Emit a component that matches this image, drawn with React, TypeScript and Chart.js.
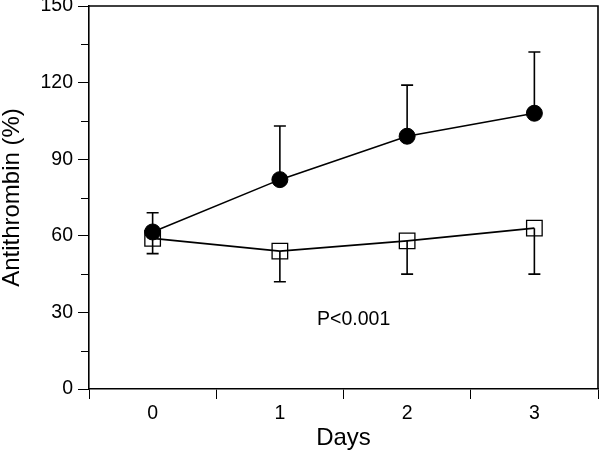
import React, { useEffect, useRef } from "react";
import { Chart, registerables } from "chart.js";

Chart.register(...registerables);

const days = ["0", "1", "2", "3"];
const treatedMean = [61.5, 82, 99, 108];
const treatedUpper = [69, 103, 119, 132];
const controlMean = [59, 54, 58, 63];
const controlLower = [53, 42, 45, 45];
const yMin = 0;
const yMax = 150;
const yStep = 15;
const annotationText = "P<0.001";
const annotationX = 1.58;
const annotationY = 27;

const FONT = "'Liberation Sans', Arial, Helvetica, sans-serif";

const errorBarPlugin = {
  id: "errorBars",
  beforeDatasetsDraw(chart: any) {
    const ctx = chart.ctx;
    const x = chart.scales.x;
    const y = chart.scales.y;
    const sets = [
      { mean: treatedMean, err: treatedUpper },
      { mean: controlMean, err: controlLower },
    ];
    ctx.save();
    ctx.strokeStyle = "#000";
    ctx.lineWidth = 1.6;
    sets.forEach((s) => {
      s.mean.forEach((m, i) => {
        const px = x.getPixelForValue(i);
        const py0 = y.getPixelForValue(m);
        const py1 = y.getPixelForValue(s.err[i]);
        ctx.beginPath();
        ctx.moveTo(px, py0);
        ctx.lineTo(px, py1);
        ctx.moveTo(px - 6, py1);
        ctx.lineTo(px + 6, py1);
        ctx.stroke();
      });
    });
    ctx.restore();
  },
  afterDraw(chart: any) {
    const ctx = chart.ctx;
    const a = chart.chartArea;
    const x = chart.scales.x;
    const y = chart.scales.y;
    ctx.save();
    ctx.strokeStyle = "#000";
    ctx.lineWidth = 1.6;
    // frame top and right
    ctx.beginPath();
    ctx.moveTo(a.left, a.top);
    ctx.lineTo(a.right, a.top);
    ctx.lineTo(a.right, a.bottom);
    ctx.stroke();
    // minor y ticks
    ctx.lineWidth = 1;
    for (let v = yMin; v <= yMax; v += yStep) {
      if (v % 30 !== 0) {
        const py = Math.round(y.getPixelForValue(v)) + 0.5;
        ctx.beginPath();
        ctx.moveTo(a.left - 8, py);
        ctx.lineTo(a.left, py);
        ctx.stroke();
      }
    }
    // annotation
    ctx.fillStyle = "#000";
    ctx.font = `19.5px ${FONT}`;
    ctx.textAlign = "center";
    ctx.textBaseline = "middle";
    ctx.fillText(annotationText, x.getPixelForValue(annotationX), y.getPixelForValue(annotationY));
    ctx.restore();
  },
};

export default function App() {
  const ref = useRef<HTMLCanvasElement | null>(null);
  useEffect(() => {
    if (!ref.current) return;
    const chart = new Chart(ref.current, {
      type: "line",
      data: {
        labels: days,
        datasets: [
          {
            label: "Treated",
            data: treatedMean,
            borderColor: "#000",
            borderWidth: 1.6,
            pointStyle: "circle",
            pointRadius: 8,
            pointBackgroundColor: "#000",
            pointBorderColor: "#000",
            pointBorderWidth: 1,
            tension: 0,
            clip: false,
          },
          {
            label: "Control",
            data: controlMean,
            borderColor: "#000",
            borderWidth: 1.6,
            pointStyle: "rect",
            pointRadius: 11,
            pointBackgroundColor: "rgba(0,0,0,0)",
            pointBorderColor: "#000",
            pointBorderWidth: 1.3,
            tension: 0,
            clip: false,
          },
        ],
      },
      options: {
        animation: false,
        responsive: false,
        maintainAspectRatio: false,
        layout: { autoPadding: false, padding: { top: 6, right: 2, left: 0, bottom: 0 } },
        plugins: {
          legend: { display: false },
          tooltip: { enabled: false },
        },
        scales: {
          x: {
            type: "category",
            offset: true,
            grid: {
              offset: true,
              drawOnChartArea: false,
              tickLength: 10,
              tickColor: "#000",
              tickWidth: 1,
            },
            border: { display: true, color: "#000", width: 1.6 },
            ticks: {
              color: "#000",
              font: { family: FONT, size: 19.5 },
              padding: 3,
              maxRotation: 0,
            },
            title: {
              display: true,
              text: "Days",
              color: "#000",
              font: { family: FONT, size: 24, lineHeight: 1 },
              padding: { top: 0, bottom: 2 },
            },
            afterFit(scale: any) {
              scale.height = 63;
              scale.paddingLeft = 0;
              scale.paddingRight = 0;
            },
          },
          y: {
            min: yMin,
            max: yMax,
            grid: {
              drawOnChartArea: false,
              tickLength: 11,
              tickColor: (c: any) => (c.tick && c.tick.value % 30 === 0 ? "#000" : "rgba(0,0,0,0)"),
              tickWidth: 1,
            },
            border: { display: true, color: "#000", width: 1.6 },
            ticks: {
              stepSize: yStep,
              color: "#000",
              font: { family: FONT, size: 19.5 },
              padding: 5,
              callback: (v: any) => (Number(v) % 30 === 0 ? String(v) : ""),
            },
            title: {
              display: true,
              text: "Antithrombin (%)",
              color: "#000",
              font: { family: FONT, size: 24, lineHeight: 1 },
              padding: { top: 0, bottom: 0 },
            },
            afterFit(scale: any) {
              scale.width = 89;
              scale.paddingTop = 0;
              scale.paddingBottom = 0;
            },
          },
        },
      },
      plugins: [errorBarPlugin],
    });
    return () => chart.destroy();
  }, []);
  return (
    <div style={{ position: "fixed", left: 0, top: 0, width: 600, height: 452, background: "#fff" }}>
      <canvas ref={ref} width={600} height={452} style={{ width: 600, height: 452 }} />
    </div>
  );
}
